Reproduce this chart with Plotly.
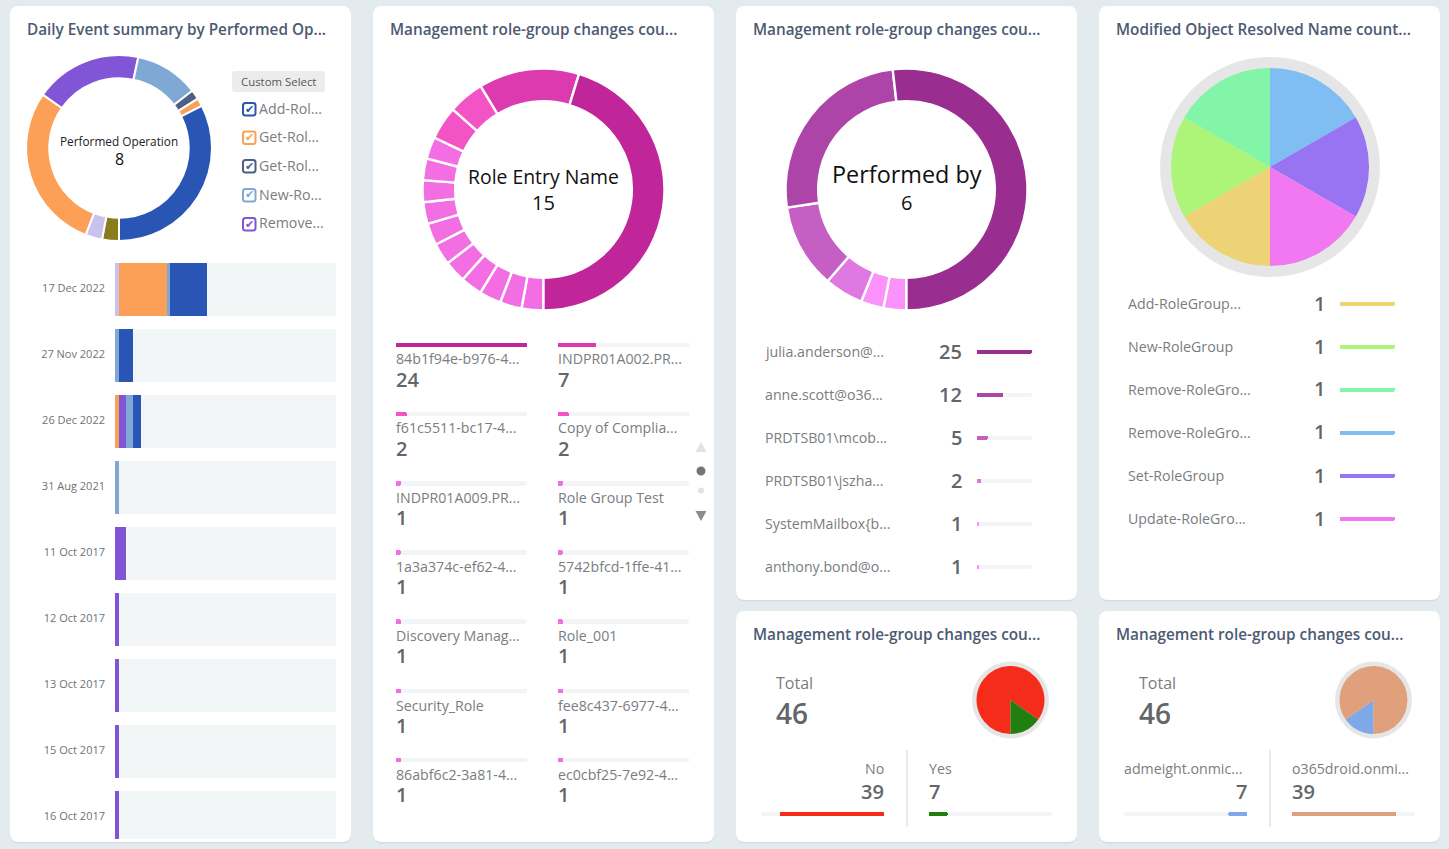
import plotly.graph_objects as go

W, H = 1449, 849
FONT = "Open Sans"
TITLE_C, LABEL_C, VALUE_C = "#4c5a73", "#7a7d80", "#636669"
TRACK = "#f3f4f5"

# ---------- data ----------
titles = ["Daily Event summary by Performed Op...", "Management role-group changes cou...",
          "Management role-group changes cou...", "Modified Object Resolved Name count...",
          "Management role-group changes cou...", "Management role-group changes cou..."]

op_arcs = [10.5, 10.5, 104, 67, 40, 6, 5, 117]
op_colors = ["#8a7b1f", "#c9c2ec", "#fba056", "#8255d6", "#7fa9d4", "#4c5f84", "#fba056", "#2955b5"]
op_legend = ["Add-Rol...", "Get-Rol...", "Get-Rol...", "New-Ro...", "Remove..."]
op_legend_colors = ["#2955b5", "#fba056", "#4c5f84", "#7fa9d4", "#8255d6"]

dates = ["17 Dec 2022", "27 Nov 2022", "26 Dec 2022", "31 Aug 2021", "11 Oct 2017",
         "12 Oct 2017", "13 Oct 2017", "15 Oct 2017", "16 Oct 2017"]
daily_lavender = [1, 0, 0, 0, 0, 0, 0, 0, 0]
daily_orange = [13, 0, 1, 0, 0, 0, 0, 0, 0]
daily_purple = [0, 0, 2, 0, 3, 1, 1, 1, 1]
daily_lightblue = [1, 1, 2, 1, 0, 0, 0, 0, 0]
daily_blue = [10, 4, 2, 0, 0, 0, 0, 0, 0]
daily_max = 60

role_names_a = ["84b1f94e-b976-4...", "f61c5511-bc17-4...", "INDPR01A009.PR...", "1a3a374c-ef62-4...",
                "Discovery Manag...", "Security_Role", "86abf6c2-3a81-4..."]
role_values_a = [24, 2, 1, 1, 1, 1, 1]
role_colors_a = ["#c0259a", "#f353c5", "#f36ee3", "#f36ee3", "#f36ee3", "#f36ee3", "#f36ee3"]
role_names_b = ["INDPR01A002.PR...", "Copy of Complia...", "Role Group Test", "5742bfcd-1ffe-41...",
                "Role_001", "fee8c437-6977-4...", "ec0cbf25-7e92-4..."]
role_values_b = [7, 2, 1, 1, 1, 1, 1]
role_colors_b = ["#dc3bb0", "#f353c5", "#f36ee3", "#f36ee3", "#f36ee3", "#f36ee3", "#f36ee3"]
role_arcs = [163, 48.4, 17.3, 16] + [10.5] * 11
role_arc_colors = ["#c0259a", "#dc3bb0", "#f353c5", "#f353c5"] + ["#f36ee3"] * 11

by_names = ["julia.anderson@...", "anne.scott@o36...", "PRDTSB01\\mcob...", "PRDTSB01\\jszha...",
            "SystemMailbox{b...", "anthony.bond@o..."]
by_values = [25, 12, 5, 2, 1, 1]
by_arcs = [186.4, 92, 40.6, 18.7, 11, 11]
by_colors = ["#992d90", "#ad45a8", "#c55fc4", "#df78e1", "#fa92fa", "#fa92fa"]

obj_names = ["Add-RoleGroup...", "New-RoleGroup", "Remove-RoleGro...", "Remove-RoleGro...",
             "Set-RoleGroup", "Update-RoleGro..."]
obj_values = [1, 1, 1, 1, 1, 1]
obj_colors = ["#eed376", "#adf578", "#82f5a8", "#7fbdf3", "#9873f2", "#f178f1"]

total_value = 46
yn_names = ["No", "Yes"]
yn_values = [39, 7]
yn_colors = ["#f52c1a", "#217e10"]
dom_names = ["admeight.onmic...", "o365droid.onmi..."]
dom_values = [7, 39]
dom_colors = ["#7fa8e8", "#e0a07b"]

# ---------- layout helpers ----------
fx = lambda x: x / W
fy = lambda y: 1 - y / H
shapes, annos, axes = [], [], {}
traces = []
axis_n = [1]


def text(x, y, s, size=14.2, color=LABEL_C, anchor="left", weight=None, family=FONT):
    f = dict(family=family, size=size, color=color)
    if weight:
        f["weight"] = weight
    annos.append(dict(x=fx(x), y=fy(y - 1), xref="paper", yref="paper", text=s, showarrow=False,
                      xanchor=anchor, yanchor="middle", font=f, borderpad=0, borderwidth=0))


def rrect(x0, y0, x1, y1, r, fill, line=None, lw=0):
    X0, X1, Y0, Y1 = fx(x0), fx(x1), fy(y0), fy(y1)
    rx, ry = r / W, r / H
    p = (f"M{X0+rx},{Y0} L{X1-rx},{Y0} Q{X1},{Y0} {X1},{Y0-ry} L{X1},{Y1+ry} Q{X1},{Y1} {X1-rx},{Y1} "
         f"L{X0+rx},{Y1} Q{X0},{Y1} {X0},{Y1+ry} L{X0},{Y0-ry} Q{X0},{Y0} {X0+rx},{Y0} Z")
    shapes.append(dict(type="path", path=p, xref="paper", yref="paper", fillcolor=fill, layer="below",
                       line=dict(color=line or "rgba(0,0,0,0)", width=lw)))


def card(x0, y0, x1, y1):
    rrect(x0, y0 + 1, x1, y1 + 1.5, 9, "#d3dcdf")
    rrect(x0, y0, x1, y1, 9, "#ffffff")


def pie(cx, cy, r, values, colors, hole=0, rotation=180, gap=0):
    traces.append(go.Pie(values=values, sort=False, rotation=rotation, direction="clockwise", hole=hole,
                         marker=dict(colors=colors, line=dict(color="#ffffff", width=gap)),
                         textinfo="none", hoverinfo="label+value", showlegend=False,
                         domain=dict(x=[fx(cx - r), fx(cx + r)], y=[fy(cy + r), fy(cy - r)])))


def new_axes(x0, x1, ytop, ybottom, xrange, yrange):
    n = axis_n[0]
    axis_n[0] += 1
    common = dict(showgrid=False, zeroline=False, showticklabels=False, ticks="", showline=False, fixedrange=True)
    s = "" if n == 1 else str(n)
    axes[f"xaxis{s}"] = dict(domain=[fx(x0), fx(x1)], range=xrange, anchor=f"y{s}", **common)
    axes[f"yaxis{s}"] = dict(domain=[fy(ybottom), fy(ytop)], range=yrange, anchor=f"x{s}", **common)
    return f"x{s}", f"y{s}"


def progress(x0, x1, ys, values, maxv, colors, thick=4, rev=False):
    n = len(values)
    s = (ys[-1] - ys[0]) / (n - 1) if n > 1 else 20
    rows = list(range(n))
    xr = [maxv, 0] if rev else [0, maxv]
    for vals, cols in (([maxv] * n, [TRACK] * n), (values, colors)):
        xa, ya = new_axes(x0, x1, ys[0] - s / 2, ys[-1] + s / 2, xr, [n - 0.5, -0.5])
        traces.append(go.Bar(x=vals, y=rows, orientation="h", width=thick / s, xaxis=xa, yaxis=ya,
                             marker=dict(color=cols, cornerradius=thick / 2, line=dict(width=0)),
                             showlegend=False, hoverinfo="x"))


# ---------- cards ----------
for c in [(10, 6, 351, 842), (373, 6, 714, 842), (736, 6, 1077, 600), (1099, 6, 1440, 600),
          (736, 611, 1077, 842), (1099, 611, 1440, 842)]:
    card(*c)
for (x, y), t in zip([(27, 30), (390, 30), (753, 30), (1116, 30), (753, 635), (1116, 635)], titles):
    text(x, y, t, size=15.3, color=TITLE_C, weight=600)

# ---------- panel 1 ----------
pie(119, 148, 93, op_arcs, op_colors, hole=0.75, gap=2)
text(119, 142, "Performed Operation", size=11.8, color="#222222", anchor="center")
text(119, 160, "8", size=16, color="#111111", anchor="center")
rrect(232, 71, 325, 92, 3, "#ececec")
text(278.5, 82.4, "Custom Select", size=11.4, color="#55585b", anchor="center")
for yy, lab, col in zip([109, 137.5, 166, 195, 224], op_legend, op_legend_colors):
    rrect(243, yy - 6, 255.5, yy + 6.5, 2.5, "#ffffff", line=col, lw=2)
    text(249.3, yy + 1, "✔", size=11, color=col, anchor="center", family="DejaVu Sans")
    text(258.5, yy, lab)

xa, ya = new_axes(115, 336, 263, 839, [0, daily_max], [8.326, -0.4015])
rest = [daily_max - sum(v) for v in zip(daily_lavender, daily_orange, daily_purple, daily_lightblue, daily_blue)]
for vals, col in [(daily_lavender, "#c9c2ec"), (daily_orange, "#fba056"), (daily_purple, "#8255d6"),
                  (daily_lightblue, "#7fa9d4"), (daily_blue, "#2955b5"), (rest, "#f2f6f7")]:
    traces.append(go.Bar(x=vals, y=dates, orientation="h", xaxis=xa, yaxis=ya, showlegend=False,
                         marker=dict(color=col, line=dict(width=0)), hoverinfo="x+y"))
axes["yaxis"].update(showticklabels=True, type="category", categoryorder="array", categoryarray=dates,
                     tickfont=dict(family=FONT, size=11, color="#6f7275"), ticklabelstandoff=9,
                     ticklabelshift=1)

# ---------- panel 2 ----------
pie(543.5, 189.5, 121, role_arcs[::-1], role_arc_colors[::-1], hole=0.73, gap=2.4)
text(543.5, 177, "Role Entry Name", size=19.4, color="#111111", anchor="center")
text(543.5, 203, "15", size=20, color="#111111", anchor="center")
bar_y = [345, 414, 483, 553, 622, 691, 760]
lab_y = [359, 428, 498.6, 567.6, 636, 706, 775]
val_y = [380, 449, 518, 587, 656, 726, 795]
for x0, names, vals, cols in [(396, role_names_a, role_values_a, role_colors_a),
                              (558, role_names_b, role_values_b, role_colors_b)]:
    progress(x0, x0 + 131, bar_y, vals, 24, cols, thick=4.5)
    for n_, v_, ly, vy in zip(names, vals, lab_y, val_y):
        text(x0, ly, n_)
        text(x0, vy, str(v_), size=20, color=VALUE_C, weight=600)
# pager
shapes.append(dict(type="path", xref="paper", yref="paper", fillcolor="#e2e2e2", line=dict(width=0), layer="below",
                   path=f"M{fx(695.5)},{fy(452)} L{fx(706.5)},{fy(452)} L{fx(701)},{fy(442)} Z"))
shapes.append(dict(type="path", xref="paper", yref="paper", fillcolor="#8a8d90", line=dict(width=0), layer="below",
                   path=f"M{fx(695.5)},{fy(511)} L{fx(706.5)},{fy(511)} L{fx(701)},{fy(521)} Z"))
for cy, r, col in [(471, 4.5, "#72767a"), (490.5, 3, "#e2e2e2")]:
    shapes.append(dict(type="circle", xref="paper", yref="paper", fillcolor=col, line=dict(width=0), layer="below",
                       x0=fx(701 - r), x1=fx(701 + r), y0=fy(cy + r), y1=fy(cy - r)))

# ---------- panel 3 ----------
pie(906.5, 189.5, 121, by_arcs[::-1], by_colors[::-1], hole=0.73, gap=2.4)
text(906.5, 175, "Performed by", size=23.4, color="#111111", anchor="center")
text(906.5, 203, "6", size=20, color="#111111", anchor="center")
by_y = [352, 395, 438, 481, 524, 567]
progress(977, 1032, by_y, by_values, 25, by_colors)
for n_, v_, yy in zip(by_names, by_values, by_y):
    text(765, yy, n_)
    text(962, yy, str(v_), size=20, color=VALUE_C, anchor="right", weight=600)

# ---------- panel 4 ----------
pie(1270, 167, 110, [1], ["#e6e6e6"])
pie(1270, 167, 99, obj_values, obj_colors)
obj_y = [304, 347, 390, 433, 476, 519]
for n_, v_, yy in zip(obj_names, obj_values, obj_y):
    text(1128, yy + 0.6, n_)
    text(1325, yy, str(v_), size=20, color=VALUE_C, anchor="right", weight=600)
progress(1340, 1395, obj_y, obj_values, 1, obj_colors)

# ---------- panels 5 & 6 ----------
for ox, names, vals, cols in [(0, yn_names, yn_values, yn_colors), (363, dom_names, dom_values, dom_colors)]:
    text(776 + ox, 684, "Total", size=16)
    text(776 + ox, 714, str(total_value), size=28, color=VALUE_C, weight=600)
    pie(1010.5 + ox, 700, 38.5, [1], ["#e6e6e6"])
    pie(1010.5 + ox, 700, 34, vals, cols)
    shapes.append(dict(type="line", xref="paper", yref="paper", x0=fx(907 + ox), x1=fx(907 + ox),
                       y0=fy(750), y1=fy(827), line=dict(color="#e1e4e6", width=1.5), layer="below"))
    progress(761 + ox, 884 + ox, [814], [vals[0]], total_value, [cols[0]], rev=True)
    progress(929 + ox, 1052 + ox, [814], [vals[1]], total_value, [cols[1]])
    if ox == 0:
        text(884, 769, names[0], anchor="right")
    else:
        text(761 + ox, 769, names[0])
    text(884 + ox, 792, str(vals[0]), size=20, color=VALUE_C, anchor="right", weight=600)
    text(929 + ox, 769, names[1])
    text(929 + ox, 792, str(vals[1]), size=20, color=VALUE_C, weight=600)

fig = go.Figure(data=traces)
fig.update_layout(width=W, height=H, margin=dict(l=0, r=0, t=0, b=0), paper_bgcolor="#e3ebef",
                  plot_bgcolor="rgba(0,0,0,0)", barmode="stack", bargap=0.197, shapes=shapes, annotations=annos,
                  showlegend=False, font=dict(family=FONT), **axes)
fig.write_html("out.html", config=dict(displayModeBar=False),
               post_script="document.body.style.margin='0';document.documentElement.style.overflow='hidden';")
